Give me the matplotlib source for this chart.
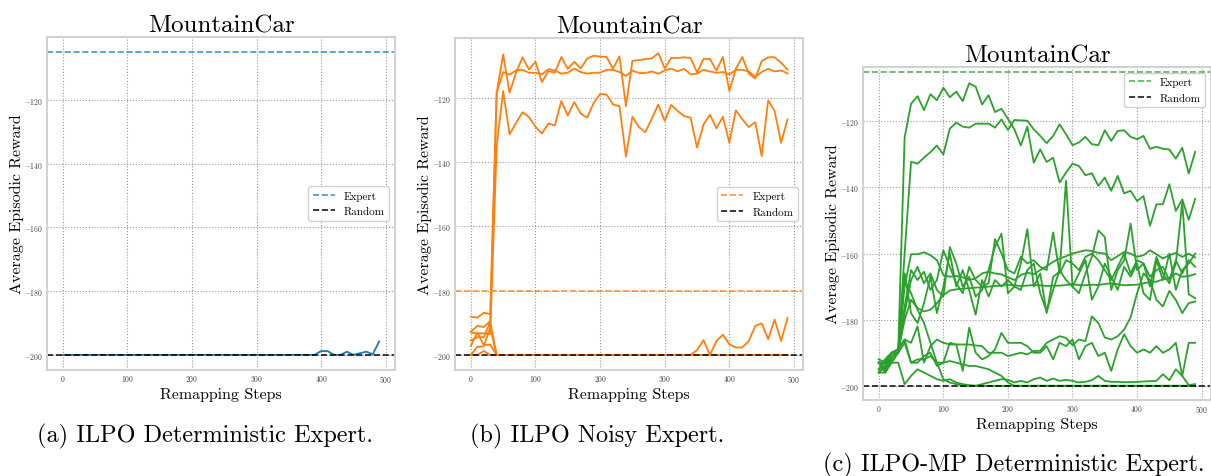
import numpy as np
import matplotlib
matplotlib.use("Agg")
import matplotlib.pyplot as plt

plt.rcParams["font.family"] = ["cmr10", "DejaVu Serif"]
plt.rcParams["mathtext.fontset"] = "cm"
plt.rcParams["axes.formatter.use_mathtext"] = True
plt.rcParams["axes.unicode_minus"] = True

# Remapping steps (x axis)
steps = np.arange(0, 500, 10)

# Panel (a): ILPO deterministic expert, MountainCar
expert_a = -105.0
random_a = -200.0
run_a1 = [-200, -200, -200, -200, -200, -200, -200, -200, -200, -200,
          -200, -200, -200, -200, -200, -200, -200, -200, -200, -200,
          -200, -200, -200, -200, -200, -200, -200, -200, -200, -200,
          -200, -200, -200, -200, -200, -200, -200, -200, -200, -200,
          -198.8, -198.8, -200, -200, -199.0, -200, -199.5, -199.0, -199.8, -195.8]

# Panel (b): ILPO noisy expert
expert_b = -180.0
random_b = -200.0
run_b1 = [-188.1, -188.4, -186.9, -187.3, -118.5, -106.5, -118.4, -112.2, -107.4, -111.2,
          -108.8, -115.1, -111.7, -112.2, -107.3, -111.0, -108.8, -110.9, -107.8, -106.9,
          -107.2, -107.3, -110.9, -107.1, -122.6, -108.5, -108.3, -107.9, -107.8, -106.1,
          -110.9, -107.6, -107.6, -107.4, -107.6, -112.1, -107.9, -107.9, -111.5, -107.3,
          -117.9, -111.0, -107.3, -112.5, -114.0, -108.6, -107.4, -107.4, -109.1, -111.2]
run_b2 = [-192.8, -191.0, -191.3, -189.5, -118.5, -112.0, -112.8, -111.5, -111.3, -112.2,
          -112.2, -112.7, -111.1, -111.5, -112.5, -112.2, -110.9, -112.0, -112.5, -112.2,
          -112.2, -111.3, -111.3, -112.0, -113.2, -111.5, -112.3, -112.3, -111.8, -112.5,
          -111.5, -110.9, -111.8, -111.0, -112.7, -112.5, -111.3, -111.8, -112.2, -112.0,
          -112.7, -111.3, -111.3, -111.8, -113.5, -112.0, -111.0, -111.8, -111.5, -112.4]
run_b3 = [-193.0, -193.3, -193.3, -193.5, -135.0, -117.9, -131.4, -127.8, -124.5, -126.0,
          -129.0, -131.1, -128.0, -128.6, -121.0, -125.5, -121.3, -124.9, -126.2, -121.6,
          -118.8, -119.0, -122.1, -122.6, -138.3, -125.9, -129.1, -130.7, -126.5, -122.1,
          -127.2, -122.2, -124.1, -125.7, -126.2, -135.5, -128.3, -125.3, -129.5, -125.9,
          -134.0, -123.9, -126.7, -129.1, -127.6, -138.1, -120.8, -124.1, -134.0, -126.7]
run_b4 = [-197.2, -193.0, -196.9, -196.8, -200, -200, -200, -200, -200, -200,
          -200, -200, -200, -200, -200, -200, -200, -200, -200, -200,
          -200, -200, -200, -200, -200, -200, -200, -200, -200, -200,
          -200, -200, -200, -200, -200, -198.5, -195.4, -200, -195.7, -193.7,
          -196.7, -197.7, -197.7, -195.7, -191.0, -190.2, -195.1, -189.0, -195.7, -188.5]
run_b5 = [-200, -197.5, -197.3, -191.5, -200, -200, -200, -200, -200, -200,
          -200, -200, -200, -200, -200, -200, -200, -200, -200, -200,
          -200, -200, -200, -200, -200, -200, -200, -200, -200, -200,
          -200, -200, -200, -200, -200, -200, -200, -200, -200, -200,
          -200, -200, -200, -200, -200, -200, -200, -200, -200, -200]
run_b6 = [-200, -200, -198.8, -200, -200, -200, -200, -200, -200, -200,
          -200, -200, -200, -200, -200, -200, -200, -200, -200, -200,
          -200, -200, -200, -200, -200, -200, -200, -200, -200, -200,
          -200, -200, -200, -200, -200, -200, -200, -200, -200, -200,
          -200, -200, -200, -200, -200, -200, -200, -200, -200, -200]
run_b7 = [-195.5, -194.5, -194.5, -189.8, -200, -200, -200, -200, -200, -200,
          -200, -200, -200, -200, -200, -200, -200, -200, -200, -200,
          -200, -200, -200, -200, -200, -200, -200, -200, -200, -200,
          -200, -200, -200, -200, -200, -200, -200, -200, -200, -200,
          -200, -200, -200, -200, -200, -200, -200, -200, -200, -200]

# Panel (c): ILPO-MP deterministic expert
expert_c = -105.0
random_c = -200.0
run_c1 = [-193, -195, -190, -190, -124.9, -114.7, -112.4, -116.6, -111.8, -113.6,
          -109.8, -112.7, -111.0, -113.9, -108.5, -109.5, -114.9, -112.1, -117.2, -116.2,
          -119.2, -122.4, -127.3, -121.6, -132.5, -128.5, -132.3, -131.0, -138.5, -135.5,
          -132.8, -133.5, -136.3, -135.7, -139.5, -137.0, -141.0, -136.5, -141.8, -141.0,
          -144.1, -142.6, -151.6, -145.1, -145.1, -139.0, -147.1, -143.6, -149.8, -143.4]
run_c2 = [-193, -193, -190, -190, -160, -132.2, -132.8, -131.0, -129.3, -127.3,
          -130.0, -122.2, -120.4, -121.6, -121.9, -120.7, -120.7, -120.7, -121.9, -119.4,
          -122.6, -119.6, -119.7, -119.8, -122.4, -124.4, -126.6, -124.4, -120.9, -123.9,
          -127.2, -126.4, -124.7, -126.9, -127.2, -122.7, -125.9, -122.9, -122.7, -124.7,
          -125.4, -124.4, -128.3, -127.7, -128.3, -128.5, -131.3, -128.0, -135.8, -129.2]
run_c3 = [-195, -193, -190, -189, -170, -160.2, -160.2, -159.6, -160.5, -162.0,
          -166.5, -167.0, -166.8, -167.2, -168.0, -167.5, -166.0, -165.5, -166.0, -166.3,
          -167.2, -168.0, -166.5, -165.8, -166.2, -165.0, -163.8, -162.5, -161.5, -160.8,
          -160.0, -159.5, -159.0, -159.2, -159.8, -160.0, -162.0, -160.8, -159.5, -160.0,
          -161.0, -160.5, -159.0, -160.2, -161.5, -160.5, -159.8, -161.0, -160.0, -161.2]
run_c4 = [-196, -194, -191, -190, -180, -174, -176.5, -177.5, -177.0, -175.0,
          -172.5, -171.2, -170.8, -170.6, -170.5, -170.3, -170.2, -170.0, -169.8, -169.7,
          -169.5, -169.6, -169.8, -169.7, -169.5, -169.6, -169.8, -169.7, -169.7, -169.5,
          -169.3, -169.5, -169.6, -169.4, -169.5, -169.2, -169.0, -169.3, -169.6, -169.5,
          -169.4, -169.0, -168.6, -168.5, -167.8, -167.5, -166.0, -167.0, -166.8, -166.2]
run_c5 = [-193, -196, -192, -190, -178, -168, -164, -169, -166, -171,
          -173, -158, -163, -170, -167, -173, -171, -165, -158, -154,
          -172, -170, -163, -152.6, -170, -166, -178, -167, -165.5, -138,
          -170, -172, -166, -161, -153, -155, -171, -165, -162, -150.9,
          -165, -163, -170, -161, -166, -169, -163, -144.5, -172.3, -173.5]
run_c6 = [-196, -196, -191, -190, -166, -178, -181, -175, -167, -178,
          -170, -160, -170, -165, -171, -178.5, -168, -173, -168, -170,
          -168, -170, -171, -165, -163, -172, -177.5, -171, -165, -168,
          -170, -166, -162, -174, -170, -163, -167, -171, -164, -167,
          -163, -172, -174, -162, -168, -160, -171, -165, -163, -160]
run_c7 = [-193, -193, -190, -190, -176, -165, -168, -165.5, -171, -168,
          -159, -164, -169, -172, -164, -168, -170, -169, -155.6, -160,
          -165, -166, -161, -163, -162, -164, -165, -153.6, -166, -162,
          -163, -165, -161, -160, -162, -165, -168, -164, -160, -166,
          -162, -163, -167, -165, -164, -168, -162, -166, -162, -164]
run_c8 = [-196, -194, -190, -190, -168, -172, -177, -181, -187, -193,
          -198, -199, -199.5, -200, -200, -200, -200, -200, -200, -200,
          -200, -200, -200, -200, -200, -200, -200, -200, -200, -200,
          -200, -200, -200, -200, -200, -200, -200, -200, -200, -200,
          -200, -200, -200, -200, -200, -200, -200, -200, -200, -200]
run_c9 = [-192, -193, -193, -193, -199.5, -197, -195, -196, -197, -198,
          -198.5, -198, -199, -199.5, -199.8, -200, -199.5, -199, -198.5, -198,
          -198.2, -199, -198.5, -199, -198, -197.5, -198.5, -197.8, -198.5, -198.2,
          -198.5, -199, -198.8, -198.3, -197, -198.5, -198.8, -198.8, -198.9, -198.9,
          -198.8, -198.7, -198.6, -198.5, -196.5, -198.3, -195, -197, -199.8, -199.5]
run_c10 = [-195, -192, -190, -189, -186, -187, -182, -193, -188, -186,
           -187, -187.5, -187.5, -187.5, -187.5, -187.8, -188, -190, -190, -190,
           -191, -190.5, -190, -190.5, -189.5, -189.4, -187, -186, -185, -185.5,
           -187.7, -186, -186.5, -179, -181, -185.4, -186, -185, -183, -179.3,
           -172, -166, -168, -174, -176, -171.3, -174, -178, -175, -174.5]
run_c11 = [-193, -196, -193, -190, -187, -193, -193, -191, -190, -194,
           -193, -187, -187.5, -195.5, -182.4, -190, -192, -191, -189, -184,
           -187, -187, -187, -188, -190, -190, -188, -192, -187, -188,
           -186, -192, -188, -187, -191, -190, -195.5, -189, -184.4, -188,
           -190, -189, -190, -188, -190, -189, -187, -197, -187, -187]
run_c12 = [-195, -192, -190, -189, -186, -193, -192, -192, -191, -193,
           -193, -192.5, -193, -193.5, -194, -194, -194.5, -195, -196, -197,
           -199, -200, -200, -200, -200, -200, -200, -200, -200, -200,
           -200, -200, -200, -200, -200, -200, -200, -200, -200, -200,
           -200, -200, -200, -200, -200, -200, -200, -200, -200, -200]

panels = [
    dict(pos=[0.0388, 0.2222, 0.2874, 0.6981], color="#1f77b4",
         runs=[run_a1], expert=expert_a, random=random_a,
         ylim=(-204.75, -100.25), legend_loc="center right",
         caption="(a) ILPO Deterministic Expert.", cap_xy=(205, 436)),
    dict(pos=[0.3757, 0.2222, 0.2877, 0.6960], color="#ff7f0e",
         runs=[run_b1, run_b2, run_b3, run_b4, run_b5, run_b6, run_b7],
         expert=expert_b, random=random_b,
         ylim=(-204.7, -101.4), legend_loc="center right",
         caption="(b) ILPO Noisy Expert.", cap_xy=(597, 436)),
    dict(pos=[0.7126, 0.1593, 0.2874, 0.6975], color="#2ca02c",
         runs=[run_c1, run_c2, run_c3, run_c4, run_c5, run_c6, run_c7,
               run_c8, run_c9, run_c10, run_c11, run_c12],
         expert=expert_c, random=random_c,
         ylim=(-204.3, -103.65), legend_loc="upper right",
         caption="(c) ILPO-MP Deterministic Expert.", cap_xy=(1014, 465)),
]

W, H = 1211, 477
fig = plt.figure(figsize=(W / 100, H / 100), dpi=100)

for p in panels:
    ax = fig.add_axes(p["pos"])
    for run in p["runs"]:
        ax.plot(steps, run, color=p["color"], linewidth=1.3)
    ax.axhline(p["expert"], color=p["color"], linestyle="--", linewidth=1.2,
               alpha=0.8, label="Expert")
    ax.axhline(p["random"], color="black", linestyle="--", linewidth=1.2,
               alpha=0.9, label="Random")

    ax.set_xlim(-24.5, 514.5)
    ax.set_ylim(*p["ylim"])
    ax.set_xticks([0, 100, 200, 300, 400, 500])
    ax.set_yticks([-200, -180, -160, -140, -120])

    ax.set_title("MountainCar", fontsize=18, pad=4)
    ax.set_xlabel("Remapping Steps", fontsize=11.5, labelpad=2)
    ax.set_ylabel("Average Episodic Reward", fontsize=11.5, labelpad=0.5)

    ax.grid(True, linestyle=":", linewidth=0.8, color="0.6")
    ax.set_axisbelow(True)
    for s in ax.spines.values():
        s.set_color("0.82")
        s.set_linewidth(1.5)
    ax.tick_params(axis="both", length=0, pad=2.5, labelsize=5.5, colors="0.25")

    ax.legend(loc=p["legend_loc"], fontsize=8, fancybox=True,
              framealpha=0.9, edgecolor="0.8", borderaxespad=0.5)

    cx, cy = p["cap_xy"]
    fig.text(cx / W, 1 - cy / H, p["caption"], fontsize=17.5,
             ha="center", va="center")

fig.savefig("out.png", dpi=100)
